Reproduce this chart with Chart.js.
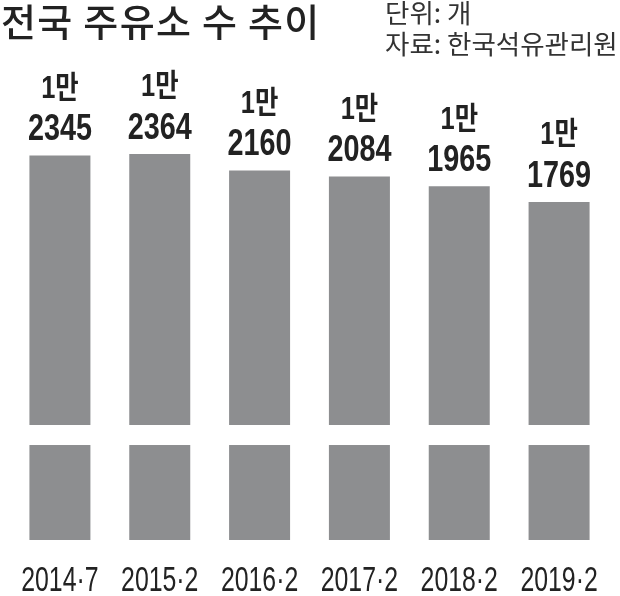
<!DOCTYPE html>
<html>
<head>
<meta charset="utf-8">
<script src="https://cdn.jsdelivr.net/npm/chart.js@4"></script>
<style>
  body { margin: 0; background: #fff; }
  #wrap { position: relative; width: 620px; height: 596px; }
  #title { position: absolute; left: 1px; top: -8px; font: 500 38px "Noto Sans CJK KR"; letter-spacing: 1.3px; color: #222; white-space: nowrap; }
  #note { position: absolute; left: 385px; top: -4px; font: 400 26.5px/31px "Noto Sans CJK KR"; color: #333; white-space: nowrap; }
  canvas { position: absolute; left: 0; top: 0; }
</style>
</head>
<body>
<div id="wrap">
  <canvas id="bars" width="620" height="596"></canvas>
  <div id="title">전국 주유소 수 추이</div>
  <div id="note">단위: 개<br>자료: 한국석유관리원</div>
</div>
<script>
const periods = ['2014·7', '2015·2', '2016·2', '2017·2', '2018·2', '2019·2'];
const stations = [12345, 12364, 12160, 12084, 11965, 11769];
const axisRange = [7580, 13404];
const breakRange = [8757, 9005];

const labelFont = '"Liberation Sans", "Noto Sans CJK KR", sans-serif';

// narrow text: squeeze horizontally around the anchor point
function narrowText(ctx, text, x, y, squeeze) {
  ctx.save();
  ctx.translate(x, y);
  ctx.scale(squeeze, 1);
  ctx.fillText(text, 0, 0);
  ctx.restore();
}

// category axis whose tick labels are drawn condensed (no narrow font installed)
class SqueezedCategoryScale extends Chart.CategoryScale {
  drawLabels(chartArea) {
    const ctx = this.ctx;
    const squeeze = this.options.ticks.squeeze || 1;
    for (const item of this.getLabelItems(chartArea)) {
      const o = item.options;
      ctx.save();
      ctx.translate(o.translation[0], o.translation[1]);
      ctx.scale(squeeze, 1);
      ctx.font = item.font.string;
      ctx.fillStyle = o.color;
      ctx.textAlign = o.textAlign;
      ctx.textBaseline = o.textBaseline;
      ctx.fillText(item.label, 0, item.textOffset);
      ctx.restore();
    }
  }
}
SqueezedCategoryScale.id = 'squeezedCategory';
SqueezedCategoryScale.defaults = Chart.CategoryScale.defaults;
Chart.register(SqueezedCategoryScale);

const valueLabels = {
  id: 'valueLabels',
  afterDatasetsDraw(chart) {
    const ctx = chart.ctx;
    const meta = chart.getDatasetMeta(0);
    ctx.save();
    ctx.fillStyle = '#222';
    ctx.textAlign = 'center';
    ctx.textBaseline = 'middle';
    meta.data.forEach((bar, i) => {
      const v = stations[i];
      ctx.font = 'bold 31px ' + labelFont;
      narrowText(ctx, Math.floor(v / 10000) + '만', bar.x, bar.y - 66, 0.82);
      ctx.font = 'bold 36px ' + labelFont;
      narrowText(ctx, String(v % 10000).padStart(4, '0'), bar.x, bar.y - 25, 0.8);
    });
    ctx.restore();
  }
};

const axisBreak = {
  id: 'axisBreak',
  afterDatasetsDraw(chart) {
    const y = chart.scales.y;
    const area = chart.chartArea;
    const top = y.getPixelForValue(breakRange[1]);
    const bottom = y.getPixelForValue(breakRange[0]);
    chart.ctx.save();
    chart.ctx.fillStyle = '#fff';
    chart.ctx.fillRect(area.left, top, area.right - area.left, bottom - top);
    chart.ctx.restore();
  }
};

new Chart(document.getElementById('bars'), {
  type: 'bar',
  data: {
    labels: periods,
    datasets: [
      {
        data: stations,
        backgroundColor: '#8d8e90',
        barPercentage: 0.611,
        categoryPercentage: 1,
      },
    ],
  },
  options: {
    responsive: false,
    animation: false,
    layout: { padding: { left: 10, right: 11, top: 70, bottom: 0 } },
    plugins: {
      legend: { display: false },
      title: { display: false },
      tooltip: { enabled: false },
    },
    scales: {
      x: {
        type: 'squeezedCategory',
        grid: { display: false, drawTicks: false },
        border: { display: false },
        ticks: {
          color: '#222',
          padding: 20,
          squeeze: 0.71,
          maxRotation: 0,
          minRotation: 0,
          autoSkip: false,
          font: { family: labelFont, size: 35 },
        },
        afterFit(scale) {
          scale.height = 56;
          scale.paddingLeft = 0;
          scale.paddingRight = 0;
        },
      },
      y: {
        display: false,
        min: axisRange[0],
        max: axisRange[1],
      },
    },
  },
  plugins: [valueLabels, axisBreak],
});
</script>
</body>
</html>
